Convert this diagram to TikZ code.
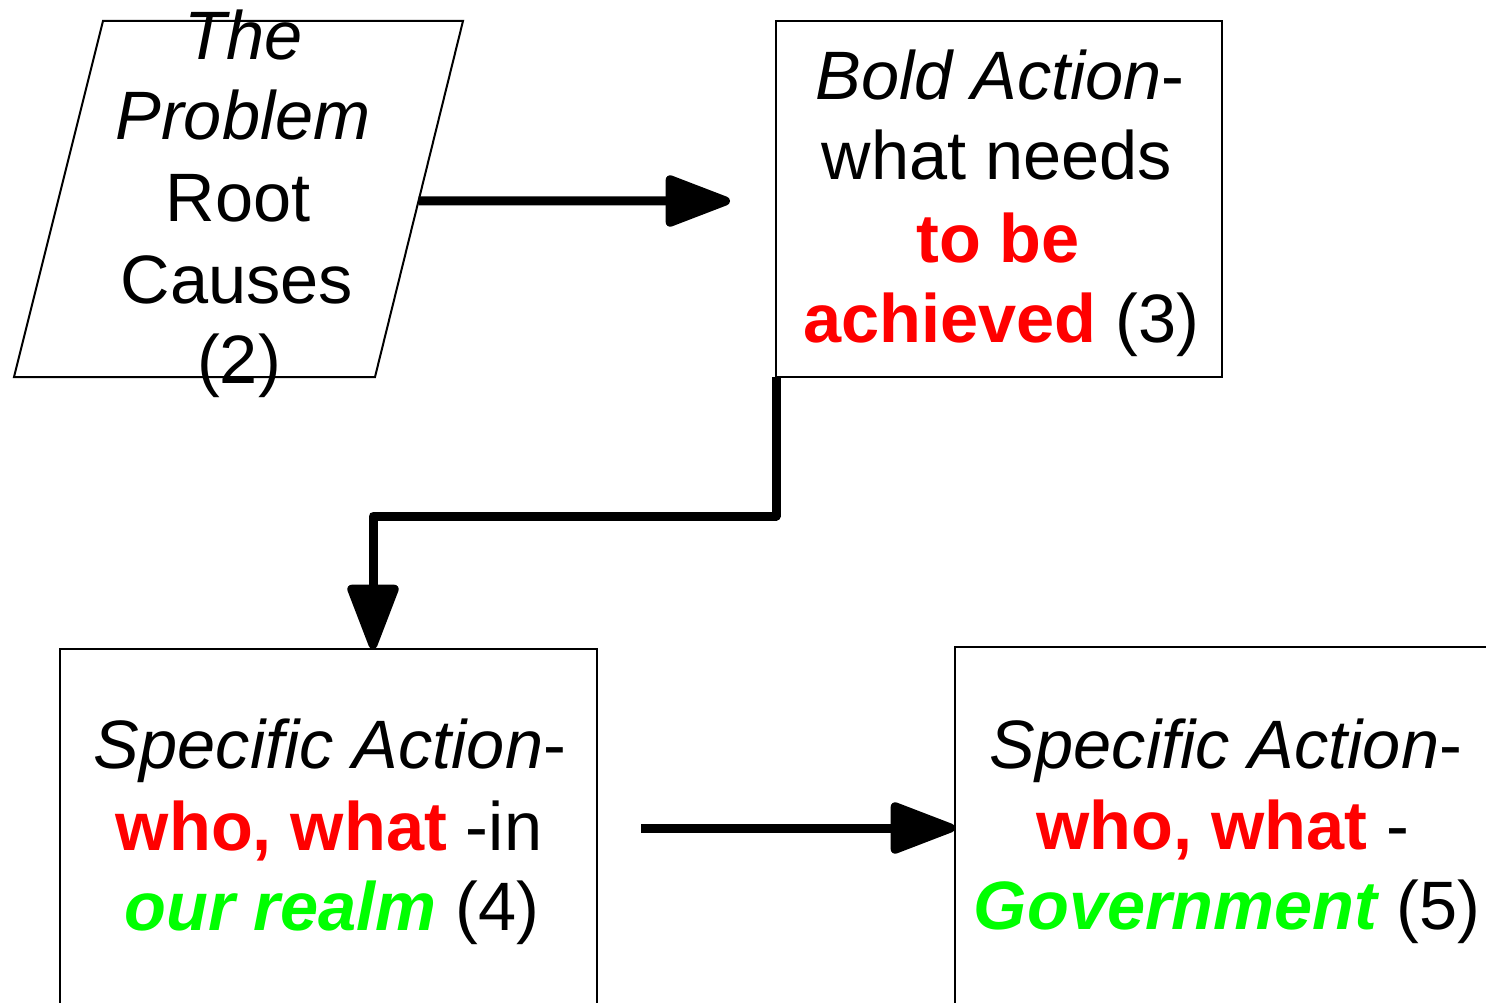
\documentclass[tikz,border=0pt]{standalone}
\usepackage{fontspec}
\setmainfont{Liberation Sans}
\usetikzlibrary{arrows.meta,calc}
\definecolor{myred}{RGB}{255,0,0}
\definecolor{mygreen}{RGB}{0,255,0}
\begin{document}
\begin{tikzpicture}[x=1pt,y=-1pt,
  boxshape/.style={draw,line width=2pt,rectangle,inner sep=0pt,outer sep=0pt},
  txt/.style={anchor=base,inner sep=0pt,font=\fontsize{68.5pt}{81pt}\selectfont},
  conn/.style={line width=9pt,line join=round,-{Triangle[length=73pt,width=53pt,round]}},
]
\useasboundingbox (0,0) rectangle (1486,1003);
% parallelogram (2)
\coordinate (pTL) at (103,21);
\coordinate (pTR) at (463,21);
\coordinate (pBR) at (375,377);
\coordinate (pBL) at (14,377);
\draw[line width=2pt,line join=miter] (pTL) -- (pTR) -- (pBR) -- (pBL) -- cycle;
\coordinate (p1s) at ($(pTR)!0.5056!(pBR)$);
% boxes
\node[boxshape,minimum width=446pt,minimum height=356pt] (b3) at (999,199) {};
\node[boxshape,minimum width=537pt,minimum height=400pt] (b4) at (328.5,849) {};
\node[boxshape,minimum width=551pt,minimum height=400pt] (b5) at (1230.5,847) {};
% texts (2)
\node[txt] (t2a) at (244,60) {\itshape The};
\node[txt] (t2b) at (243,140) {\itshape Problem};
\node[txt] (t2c) at (238,222) {Root};
\node[txt] (t2d) at (237,303) {Causes};
\node[txt] (t2e) at (239,383) {(2)};
% texts (3)
\node[txt] (t3a) at (1000,100) {\itshape Bold Action\upshape-};
\node[txt] (t3b) at (997,180) {what needs};
\node[txt] (t3c) at (998,262) {\bfseries\color{myred}to be};
\node[txt] (t3d) at (1001,342) {{\bfseries\color{myred}achieved} (3)};
% texts (4)
\node[txt] (t4a) at (330,768) {\itshape Specific Action\upshape-};
\node[txt] (t4b) at (329,850) {{\bfseries\color{myred}who, what} -in};
\node[txt] (t4c) at (332,930) {{\bfseries\itshape\color{mygreen}our realm} (4)};
% texts (5)
\node[txt] (t5a) at (1226,768) {\itshape Specific Action\upshape-};
\node[txt] (t5b) at (1223,849) {{\bfseries\color{myred}who, what} -};
\node[txt] (t5c) at (1227,929) {{\bfseries\itshape\color{mygreen}Government} (5)};
% connectors
\coordinate (a1e) at (730,201);
\draw[conn] (p1s) -- (a1e);
\coordinate (a2t) at ($(b4.north west)+(313,0)$);
\draw[conn] (b3.south west) -- ($(b3.south west)+(0,139)$) -| (a2t);
\coordinate (a3s) at (641,828);
\draw[conn] (a3s) -- (b5.west |- a3s);
\end{tikzpicture}
\end{document}
